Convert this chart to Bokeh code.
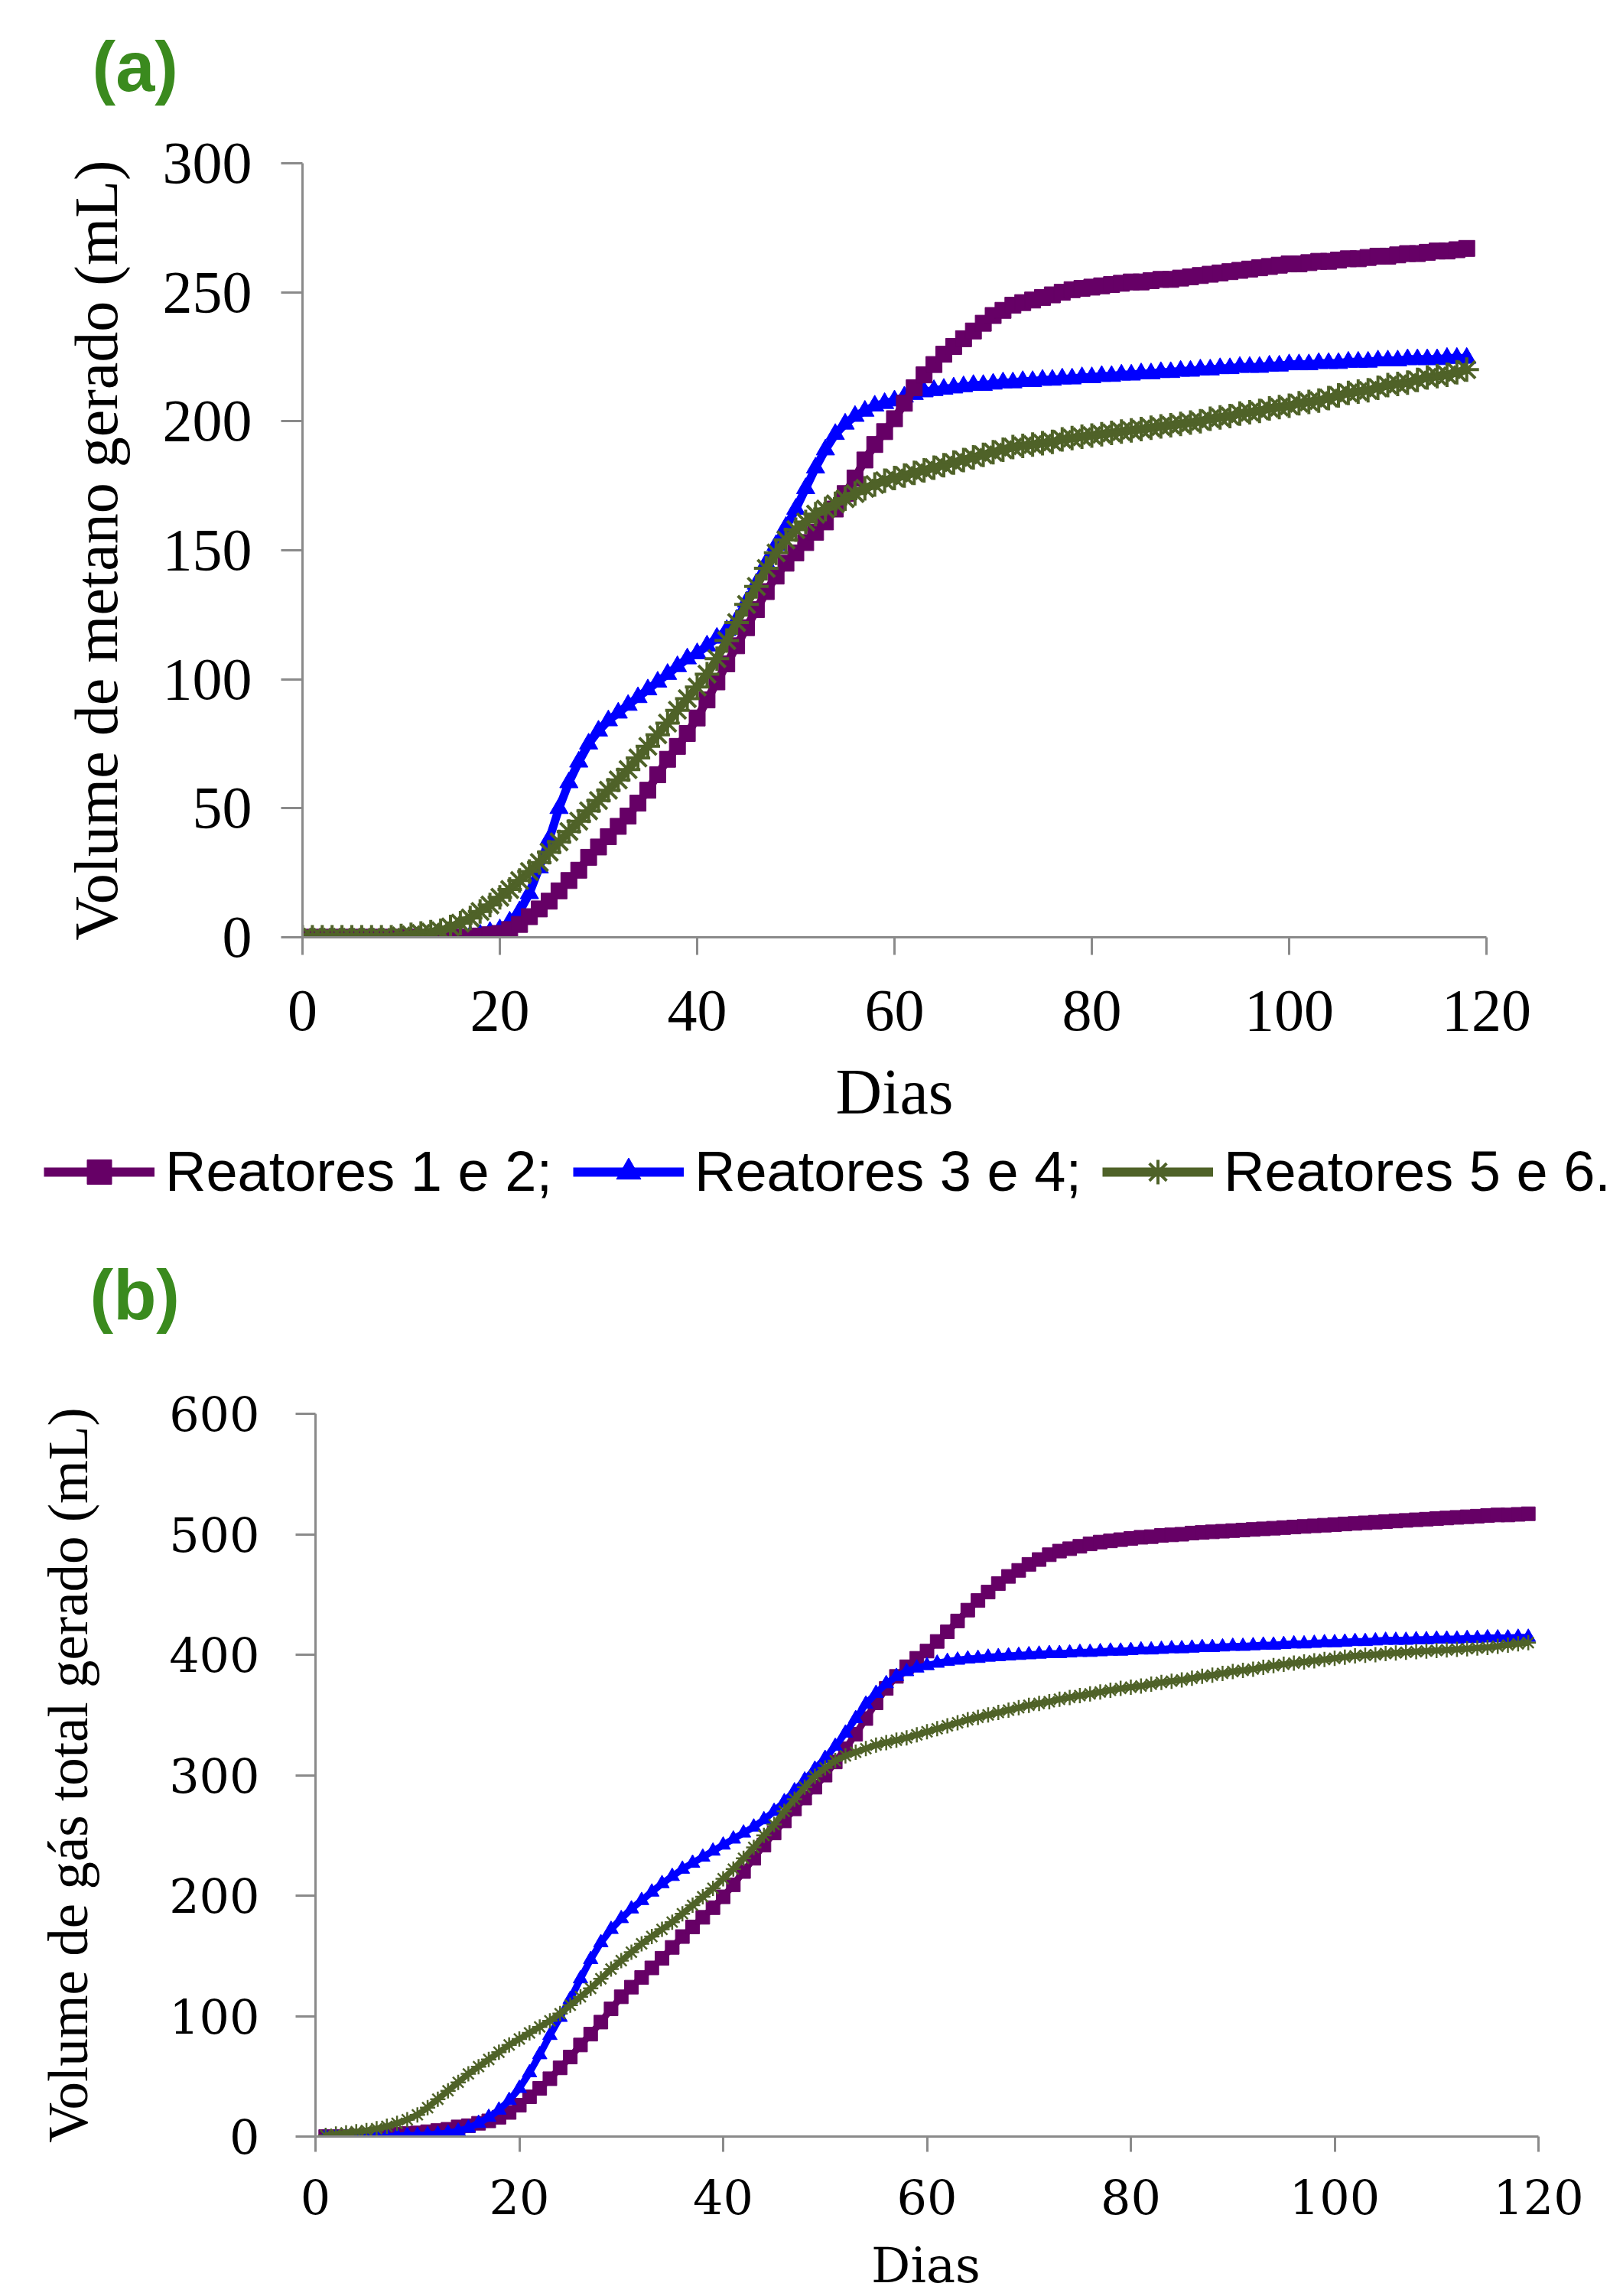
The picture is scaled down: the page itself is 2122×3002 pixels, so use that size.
from bokeh.plotting import figure
from bokeh.models import Range1d, FixedTicker, Legend, LegendItem, Label
from bokeh.layouts import column
from bokeh.embed import file_html
from bokeh.resources import INLINE
from bokeh.core.properties import value

# ---------------- data ----------------
DAYS_A = list(range(0, 119))
METANO_R12 = [0, 0, 0, 0, 0, 0, 0, 0, 0, 0, 0, 0, 0, 0, 0, 0, 0, 0,
              0.5, 1, 1.5, 3, 5, 8, 11, 14, 18, 22, 26, 31,
              35, 39, 43, 47, 52, 57, 63, 69, 74, 79,
              85, 92, 99, 106, 113, 120, 127, 134, 140, 145,
              149, 153, 157, 161, 166, 172, 178, 185, 191, 196,
              201, 207, 213, 218, 222, 226, 229, 232, 235, 238,
              241, 243, 245, 246, 247, 248, 249, 250, 251, 251.5,
              252, 252.5, 253, 253.5, 254, 254, 254.5, 255, 255, 255.5,
              256, 256.5, 257, 257.5, 258, 258.5, 259, 259.5, 260, 260.5,
              261, 261, 261.5, 262, 262, 262.5, 263, 263, 263.5, 264,
              264, 264.5, 265, 265, 265.5, 266, 266, 266.5, 267]
METANO_R34 = [0, 0, 0, 0, 0, 0, 0, 0, 0, 0, 0, 0, 0, 0, 0, 0, 0,
              0.5, 1, 2, 3, 6, 10, 17, 27, 38, 50, 60, 68, 75,
              80, 84, 87, 90, 93, 96, 99, 102, 105, 108,
              110, 113, 116, 119, 123, 130, 137, 145, 152, 159,
              166, 174, 182, 189, 195, 199, 202, 204, 206, 207,
              208, 209.5, 210.5, 211.5, 212, 212.5, 213, 213.5, 214, 214,
              214.5, 215, 215, 215.5, 215.5, 216, 216, 216.5, 216.5, 217,
              217, 217.5, 217.5, 218, 218, 218.5, 218.5, 219, 219, 219.5,
              219.5, 220, 220, 220.5, 220.5, 221, 221, 221, 221.5, 221.5,
              222, 222, 222, 222.5, 222.5, 222.5, 223, 223, 223, 223.5,
              223.5, 223.5, 224, 224, 224, 224, 224.5, 224.5, 224.5]
METANO_R56 = [0, 0, 0, 0, 0, 0, 0, 0, 0, 0,
              0.5, 1, 1.5, 2, 2.5, 4, 5.5, 7.5, 10, 12.5,
              15.5, 18.5, 22, 25.5, 29, 33, 37, 41, 45, 49,
              53, 57, 61, 65, 69.5, 74, 78.5, 83, 88, 92.5,
              97, 102, 108, 115, 122, 129, 136, 143, 149, 154,
              158, 161, 164, 166, 168, 170, 172, 174, 175.5, 177,
              178, 179, 180, 181, 182, 183, 184, 185, 186, 187,
              188, 189, 190, 190.5, 191, 191.5, 192, 193, 193.5, 194,
              194.5, 195, 195.5, 196, 196.5, 197, 197.5, 198, 198.5, 199,
              199.5, 200, 201, 201.5, 202, 203, 203.5, 204, 205, 205.5,
              206, 207, 207.5, 208, 209, 210, 211, 211.5, 212, 213,
              214, 214.5, 215, 216, 217, 217.5, 218, 219, 220]

DAYS_B = list(range(1, 120))
GAS_R12 = [0, 0, 0, 0.5, 1, 1, 1.5, 2, 2.5, 3,
           4, 5, 6, 8, 9, 11, 13, 16, 20, 26,
           33, 40, 48, 57, 66, 76, 85, 95, 106, 116,
           124, 132, 140, 148, 157, 166, 174, 182, 190, 199,
           209, 220, 231, 242, 252, 262, 272, 281, 290, 300,
           311, 322, 334, 347, 360, 372, 382, 390, 397, 403,
           411, 419, 428, 437, 445, 452, 459, 465, 470, 475,
           479, 483, 486, 488, 490, 492, 493.5, 494.5, 495.5, 496.5,
           497.5, 498, 499, 499.5, 500, 501, 501.5, 502, 502.5, 503,
           503.5, 504, 504.5, 505, 505.5, 506, 506.5, 507, 507.5, 508,
           508.5, 509, 509.5, 510, 510.5, 511, 511.5, 512, 512.5, 513,
           513.5, 514, 514.5, 515, 515.5, 516, 516, 516.5, 517]
GAS_R34 = [0, 0, 0, 0, 0, 0, 0, 0.5, 1, 1,
           1.5, 2, 3, 4.5, 7, 11, 16, 22, 30, 40,
           53, 68, 84, 99, 114, 131, 147, 161, 172, 181,
           189, 196, 203, 210, 216, 222, 227, 232, 237, 242,
           247, 252, 257, 263, 270, 278, 287, 296, 305, 314,
           324, 335, 347, 359, 368, 376, 382, 386, 389, 391,
           393, 394.5, 395.5, 396.5, 397, 398, 398.5, 399, 399.5, 400,
           400.5, 401, 401, 401.5, 402, 402, 402.5, 403, 403, 403.5,
           404, 404, 404.5, 405, 405, 405.5, 406, 406, 406.5, 407,
           407, 407.5, 408, 408, 408.5, 409, 409, 409.5, 410, 410,
           410.5, 411, 411, 411.5, 412, 412, 412, 412.5, 412.5, 413,
           413, 413, 413.5, 413.5, 414, 414, 414, 414.5, 414.5]
GAS_R56 = [1, 2, 3, 4, 5, 6.5, 8.5, 11, 14, 18,
           24, 31, 38, 45, 52, 58, 64, 70, 76, 81,
           86, 91, 96, 102, 109, 116, 123, 131, 139, 146,
           153, 160, 166, 172, 178, 185, 192, 199, 206, 214,
           222, 231, 240, 250, 259, 270, 280, 290, 299, 306,
           312, 316, 319, 322, 325, 327, 329, 331, 333.5, 336,
           338.5, 341, 343.5, 346, 348, 350, 352, 354, 356, 358,
           359.5, 361, 363, 364.5, 366, 367.5, 369, 370.5, 372, 373,
           374, 375.5, 377, 378, 379, 380.5, 382, 383, 384.5, 386,
           387, 388, 389.5, 391, 392, 393, 394, 395, 396, 397,
           398, 399, 399.5, 400, 401, 401.5, 402, 402.5, 403, 403.5,
           404, 404.5, 405, 405.5, 406, 407, 408, 409, 410]

X_TICKS = [0, 20, 40, 60, 80, 100, 120]
Y_TICKS_A = [0, 50, 100, 150, 200, 250, 300]
Y_TICKS_B = [0, 100, 200, 300, 400, 500, 600]
SERIES_NAMES = ["Reatores 1 e 2;", "Reatores 3 e 4;", "Reatores 5 e 6."]

PURPLE = "#660066"
BLUE = "#0000FF"
GREEN = "#4F6228"
AXIS_GRAY = "#8A8A8A"
LABEL_GREEN = "#3A8A1E"
W = 2106


def blank(height, x_range=None, y_range=None):
    f = figure(width=W, height=height,
               x_range=x_range or Range1d(0, 1), y_range=y_range or Range1d(0, 1),
               x_axis_type=None, y_axis_type=None, min_border=0, frame_align=False,
               output_backend="svg", toolbar_location=None)
    f.outline_line_color = None
    return f


def style_axes(p, tick_font, tick_size):
    for ax in (p.xaxis[0], p.yaxis[0]):
        ax.axis_line_color = AXIS_GRAY
        ax.axis_line_width = 3
        ax.major_tick_line_color = AXIS_GRAY
        ax.major_tick_line_width = 3
        ax.major_tick_in = 0
        ax.minor_tick_line_color = None
        ax.major_label_text_font = tick_font
        ax.major_label_text_font_size = tick_size
        ax.major_label_text_color = "black"
        ax.axis_label_text_font = "Liberation Serif"
        ax.axis_label_text_font_style = "normal"
        ax.axis_label_text_color = "black"


# ---------------- header (a) ----------------
head_a = blank(150)
head_a.add_layout(Label(x=120, y=64, x_units="screen", y_units="screen", text="(a)",
                        text_font="Liberation Sans", text_font_style="bold", text_font_size="92px",
                        text_color=LABEL_GREEN, text_baseline="alphabetic"))

# ---------------- panel (a) ----------------
pa = figure(width=W, height=1340, x_range=Range1d(0, 120), y_range=Range1d(0, 300),
            output_backend="svg", toolbar_location=None, frame_align=False,
            min_border_left=395, min_border_right=163, min_border_top=63, min_border_bottom=265)
pa.outline_line_color = None
pa.xgrid.visible = False
pa.ygrid.visible = False

pa.line(DAYS_A, METANO_R34, line_color=BLUE, line_width=11)
pa.scatter(DAYS_A, METANO_R34, marker="triangle", size=24, fill_color=BLUE, line_color=BLUE)
pa.line(DAYS_A, METANO_R12, line_color=PURPLE, line_width=11)
pa.scatter(DAYS_A, METANO_R12, marker="square", size=21, fill_color=PURPLE, line_color=PURPLE)
pa.line(DAYS_A, METANO_R56, line_color=GREEN, line_width=11)
pa.scatter(DAYS_A, METANO_R56, marker="asterisk", size=32, line_color=GREEN, line_width=4)

style_axes(pa, "Liberation Serif", "78px")
pa.xaxis[0].ticker = FixedTicker(ticks=X_TICKS)
pa.yaxis[0].ticker = FixedTicker(ticks=Y_TICKS_A)
pa.xaxis[0].major_tick_out = 23
pa.yaxis[0].major_tick_out = 28
pa.xaxis[0].major_label_standoff = 47
pa.yaxis[0].major_label_standoff = 38
pa.xaxis[0].axis_label = "Dias"
pa.xaxis[0].axis_label_text_font_size = "84px"
pa.xaxis[0].axis_label_standoff = 31
pa.yaxis[0].axis_label = "Volume de metano gerado (mL)"
pa.yaxis[0].axis_label_text_font_size = "80px"
pa.yaxis[0].axis_label_standoff = 40

# ---------------- legend row (its series sit outside its own view) ----------------
leg = blank(130, x_range=Range1d(0, 120), y_range=Range1d(5000, 5001))
lp = leg.line(DAYS_A, METANO_R12, line_color=PURPLE, line_width=12)
sp = leg.scatter(DAYS_A, METANO_R12, marker="square", size=21, fill_color=PURPLE, line_color=PURPLE)
lb = leg.line(DAYS_A, METANO_R34, line_color=BLUE, line_width=12)
sb = leg.scatter(DAYS_A, METANO_R34, marker="triangle", size=24, fill_color=BLUE, line_color=BLUE)
lg = leg.line(DAYS_A, METANO_R56, line_color=GREEN, line_width=12)
sg = leg.scatter(DAYS_A, METANO_R56, marker="asterisk", size=32, line_color=GREEN, line_width=4)
legend = Legend(items=[LegendItem(label=value(SERIES_NAMES[0]), renderers=[lp, sp]),
                       LegendItem(label=value(SERIES_NAMES[1]), renderers=[lb, sb]),
                       LegendItem(label=value(SERIES_NAMES[2]), renderers=[lg, sg])],
                location=(57, 46), orientation="horizontal",
                glyph_width=145, glyph_height=80, label_height=80, label_standoff=14, spacing=27,
                padding=0, margin=0, border_line_color=None, background_fill_alpha=0,
                label_text_font="Liberation Sans", label_text_font_size="74px",
                label_text_color="black")
leg.add_layout(legend)

# ---------------- header (b) ----------------
head_b = blank(180)
head_b.add_layout(Label(x=117, y=108, x_units="screen", y_units="screen", text="(b)",
                        text_font="Liberation Sans", text_font_style="bold", text_font_size="92px",
                        text_color=LABEL_GREEN, text_baseline="alphabetic"))

# ---------------- panel (b) ----------------
pb = figure(width=W, height=1122, x_range=Range1d(0, 120), y_range=Range1d(0, 600),
            output_backend="svg", toolbar_location=None, frame_align=False,
            min_border_left=412, min_border_right=95, min_border_top=48, min_border_bottom=129)
pb.outline_line_color = None
pb.xgrid.visible = False
pb.ygrid.visible = False

pb.line(DAYS_B, GAS_R12, line_color=PURPLE, line_width=9)
pb.scatter(DAYS_B, GAS_R12, marker="square", size=18, fill_color=PURPLE, line_color=PURPLE)
pb.line(DAYS_B, GAS_R34, line_color=BLUE, line_width=9)
pb.scatter(DAYS_B, GAS_R34, marker="triangle", size=19, fill_color=BLUE, line_color=BLUE)
pb.line(DAYS_B, GAS_R56, line_color=GREEN, line_width=8)
pb.scatter(DAYS_B, GAS_R56, marker="asterisk", size=20, line_color=GREEN, line_width=2.5)

style_axes(pb, "DejaVu Serif", "62px")
pb.xaxis[0].ticker = FixedTicker(ticks=X_TICKS)
pb.yaxis[0].ticker = FixedTicker(ticks=Y_TICKS_B)
pb.xaxis[0].major_tick_out = 20
pb.yaxis[0].major_tick_out = 26
pb.xaxis[0].major_label_standoff = 36
pb.yaxis[0].major_label_standoff = 47
pb.yaxis[0].axis_label = "Volume de gás total gerado (mL)"
pb.yaxis[0].axis_label_text_font_size = "73px"
pb.yaxis[0].axis_label_standoff = 88

# ---------------- footer (b) ----------------
foot_b = blank(78)
foot_b.add_layout(Label(x=1210, y=39, x_units="screen", y_units="screen", text="Dias",
                        text_font="DejaVu Serif", text_font_size="64px", text_color="black",
                        text_align="center", text_baseline="alphabetic"))

layout = column(head_a, pa, leg, head_b, pb, foot_b, spacing=0)
open("out.html", "w").write(file_html(layout, INLINE))
